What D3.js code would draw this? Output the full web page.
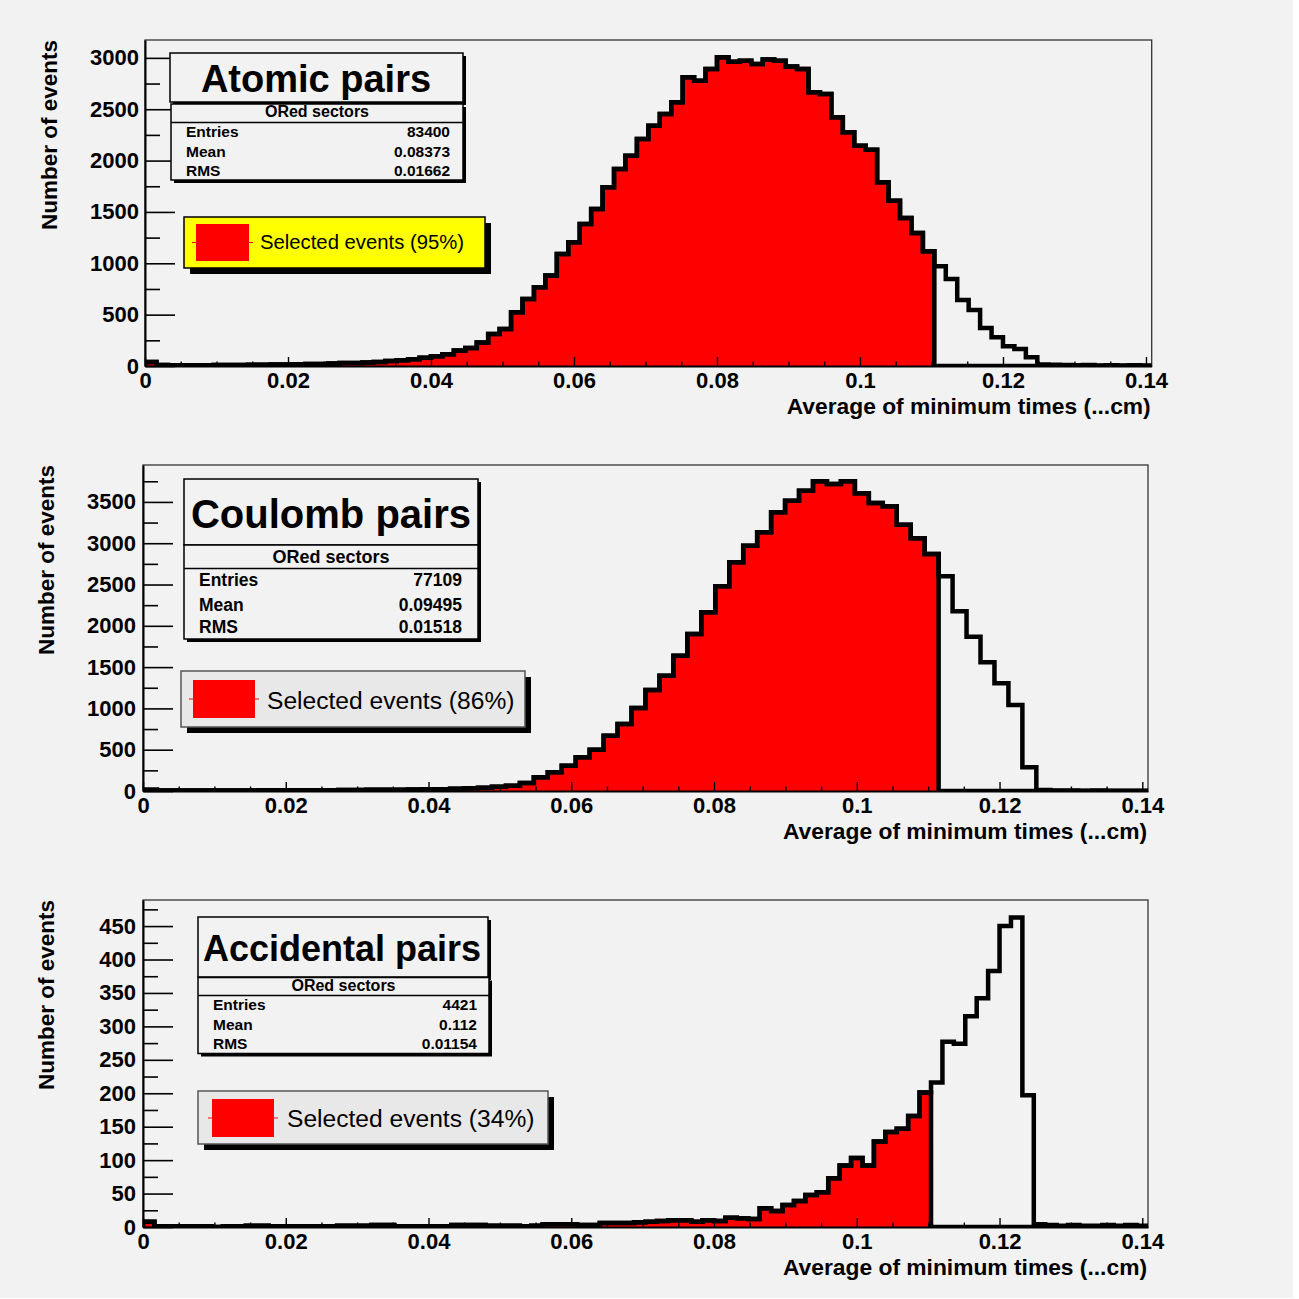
<!DOCTYPE html>
<html><head><meta charset="utf-8">
<script src="https://cdn.jsdelivr.net/npm/d3@7"></script>
<style>
body{margin:0;background:#fff}
svg{display:block}
text{font-family:"Liberation Sans",Arial,Helvetica,sans-serif}
</style>
</head><body>
<script>
// ---------------- DATA ----------------
const xRange = [0, 0.1408];
const xTickValues = [0, 0.02, 0.04, 0.06, 0.08, 0.1, 0.12, 0.14];
const xTickLabels = ["0", "0.02", "0.04", "0.06", "0.08", "0.1", "0.12", "0.14"];
const xMinorStep = 0.005;
const xTitle = "Average of minimum times (...cm)";
const yTitle = "Number of events";

const titles = ["Atomic pairs", "Coulomb pairs", "Accidental pairs"];
const statsHeader = "ORed sectors";
const statsLabels = ["Entries", "Mean", "RMS"];
const statsAtomic = ["83400", "0.08373", "0.01662"];
const statsCoulomb = ["77109", "0.09495", "0.01518"];
const statsAccidental = ["4421", "0.112", "0.01154"];
const legendLabels = ["Selected events (95%)", "Selected events (86%)", "Selected events (34%)"];

// upper edge (x) of the selected region
const cutAtomic = 0.1104;
const cutCoulomb = 0.1408 * 57 / 72;
const cutAccidental = 0.1104;

const yMaxAtomic = 3174;
const yMaxCoulomb = 3947;
const yMaxAccidental = 489;
const yTicksAtomic = [0, 500, 1000, 1500, 2000, 2500, 3000];
const yTicksCoulomb = [0, 500, 1000, 1500, 2000, 2500, 3000, 3500];
const yTicksAccidental = [0, 50, 100, 150, 200, 250, 300, 350, 400, 450];
const yMinorAtomic = 250, yMinorCoulomb = 250, yMinorAccidental = 25;

// bin contents (88 bins of 0.0016)
const atomicCounts = [
  40,10,8,8,8,8,10,10,10,12,12,14,15,18,20,20,25,28,30,35,40,48,55,65,80,95,115,150,175,
  230,312,360,523,652,766,880,1090,1204,1383,1529,1740,1918,2048,2210,2340,2454,2568,2811,2778,
  2892,3005,2963,2973,2940,2983,2973,2915,2892,2665,2648,2421,2275,2145,2106,1788,1610,1441,1295,1117,
  971,847,643,545,370,279,192,165,84,
  15,12,10,8,10,6,8,5,8,5];
// 72 bins
const coulombCounts = [
  15,5,5,5,5,5,5,5,8,8,8,10,10,10,12,12,14,15,16,18,20,22,26,32,40,50,
  64,97,166,226,307,408,500,670,811,1005,1223,1396,1638,1901,2163,2478,2769,2970,3132,3374,
  3515,3636,3749,3717,3749,3604,3487,3447,3224,3059,2869,2599,2175,1868,1558,1304,1041,287,
  12,6,5,4,5,3,4,3];
// 88 bins of 0.0016
const accidentalCounts = [
  8,1,1,1,1,1,0,1,1,2,2,1,1,1,1,1,1,2,2,2,3,3,1,1,1,1,1,3,3,3,2,2,2,1,2,4,4,4,3,3,6,6,6,7,8,9,10,10,8,10,
  9,14,13,12,28,24,33,39,48,52,73,92,103,92,128,142,147,166,201,
  216,277,274,315,342,383,450,463,197,4,3,2,3,2,2,3,2,3,2];

// ---------------- LAYOUT ----------------
const layouts = [
  {l:145, r:1151.7, t:40, b:366, yTitleX:57, yLabPad:6,
   tbox:{x:170,y:53,w:293,h:49,fs:38,cx:316,by:92},
   sbox:{x:171,y:104,w:292,h:76,fs:15.5,hfs:16,hy:117,sep:122.5,rows:[137,157,176],lx:186,rx:450},
   leg:{x:184,y:217,w:301,h:51,fill:"#ffff00",stroke:"#000",sh:6,fs:20.3,sq:[196,224,53,37],ln:[192,253],tx:260,ty:249}},
  {l:143, r:1148, t:465, b:791, yTitleX:54, yLabPad:7,
   tbox:{x:184,y:479,w:294,h:66,fs:40,cx:331,by:528},
   sbox:{x:184,y:545,w:294,h:94,fs:17.5,hfs:18,hy:563,sep:568.5,rows:[586,611,633],lx:199,rx:462},
   leg:{x:181,y:671,w:344,h:56,fill:"#e8e8e8",stroke:"#555",sh:6,fs:24.6,sq:[193,680,62,38],ln:[189,259],tx:267,ty:709}},
  {l:143, r:1148, t:900, b:1227, yTitleX:54, yLabPad:7,
   tbox:{x:198,y:917,w:290,h:60,fs:36,cx:342,by:961},
   sbox:{x:198,y:977.5,w:291,h:76,fs:15.5,hfs:16,hy:991,sep:995.5,rows:[1010,1030,1049],lx:213,rx:477},
   leg:{x:198,y:1091,w:350,h:53,fill:"#e8e8e8",stroke:"#555",sh:6,fs:24.6,sq:[212,1099,62,38],ln:[208,278],tx:287,ty:1127}}
];

const panels = [
  {counts:atomicCounts, cut:cutAtomic, yMax:yMaxAtomic, yTicks:yTicksAtomic, yMinor:yMinorAtomic, title:titles[0], stats:statsAtomic, legend:legendLabels[0]},
  {counts:coulombCounts, cut:cutCoulomb, yMax:yMaxCoulomb, yTicks:yTicksCoulomb, yMinor:yMinorCoulomb, title:titles[1], stats:statsCoulomb, legend:legendLabels[1]},
  {counts:accidentalCounts, cut:cutAccidental, yMax:yMaxAccidental, yTicks:yTicksAccidental, yMinor:yMinorAccidental, title:titles[2], stats:statsAccidental, legend:legendLabels[2]}
];

// ---------------- DRAW ----------------
const W = 1299, H = 1299;
const svg = d3.select("body").append("svg").attr("width", W).attr("height", H);
svg.append("rect").attr("width", W).attr("height", H).attr("fill", "#ffffff");
svg.append("rect").attr("x", 0).attr("y", 0).attr("width", 1293).attr("height", 1298).attr("fill", "#f2f2f2");

const FONT = '"Liberation Sans",Arial,Helvetica,sans-serif';

panels.forEach((p, pi) => {
  const L = layouts[pi];
  const x = d3.scaleLinear().domain(xRange).range([L.l, L.r]);
  const y = d3.scaleLinear().domain([0, p.yMax]).range([L.b, L.t]);
  const n = p.counts.length;
  const bw = (xRange[1] - xRange[0]) / n;
  const bins = p.counts.map((v, i) => ({lo: xRange[0] + i * bw, hi: xRange[0] + (i + 1) * bw, v}));
  const sel = bins.map(b => ({lo: b.lo, hi: b.hi, v: (b.hi <= p.cut + 1e-9) ? b.v : 0}));

  // frame
  svg.append("rect").attr("x", L.l).attr("y", L.t).attr("width", L.r - L.l).attr("height", L.b - L.t)
    .attr("fill", "#f2f2f2").attr("stroke", "#333").attr("stroke-width", 1.3);

  const clipId = "clip" + pi;
  svg.append("clipPath").attr("id", clipId).append("rect")
    .attr("x", L.l).attr("y", L.t).attr("width", L.r - L.l).attr("height", L.b - L.t);
  const g = svg.append("g").attr("clip-path", `url(#${clipId})`);

  const stepPts = arr => {
    const pts = [[arr[0].lo, 0]];
    arr.forEach(b => { pts.push([b.lo, b.v]); pts.push([b.hi, b.v]); });
    return pts;
  };
  const line = d3.line().x(d => x(d[0])).y(d => y(d[1]));
  const area = d3.area().x(d => x(d[0])).y0(y(0)).y1(d => y(d[1]));
  const selPts = stepPts(sel);
  g.append("path").attr("d", area(selPts)).attr("fill", "#ff0000").attr("stroke", "none");
  g.append("path").attr("d", line(stepPts(bins))).attr("fill", "none")
    .attr("stroke", "#000").attr("stroke-width", 4.5).attr("stroke-linejoin", "miter");
  g.append("path").attr("d", line(selPts)).attr("fill", "none")
    .attr("stroke", "#000").attr("stroke-width", 4.5).attr("stroke-linejoin", "miter");

  // y axis
  const yMinorTicks = d3.range(0, p.yMax, p.yMinor).filter(v => !p.yTicks.includes(v));
  const gyMinor = svg.append("g").attr("transform", `translate(${L.l},0)`)
    .call(d3.axisLeft(y).tickValues(yMinorTicks).tickSize(-15).tickSizeOuter(0).tickFormat(""));
  gyMinor.select(".domain").remove();
  gyMinor.selectAll("line").attr("stroke", "#000").attr("stroke-width", 1.6);
  const gy = svg.append("g").attr("transform", `translate(${L.l},0)`)
    .call(d3.axisLeft(y).tickValues(p.yTicks).tickSize(-30).tickSizeOuter(0).tickPadding(L.yLabPad).tickFormat(d3.format("d")));
  gy.select(".domain").attr("stroke", "#000").attr("stroke-width", 2);
  gy.selectAll("line").attr("stroke", "#000").attr("stroke-width", 1.6);
  gy.selectAll("text").attr("font-family", FONT).attr("font-weight", "bold").attr("font-size", 22).attr("fill", "#000");

  // x axis
  const xMinorTicks = d3.range(0, 0.14 + 1e-9, xMinorStep).filter(v => !xTickValues.some(t => Math.abs(t - v) < 1e-9));
  const gxMinor = svg.append("g").attr("transform", `translate(0,${L.b})`)
    .call(d3.axisBottom(x).tickValues(xMinorTicks).tickSize(-4.5).tickSizeOuter(0).tickFormat(""));
  gxMinor.select(".domain").remove();
  gxMinor.selectAll("line").attr("stroke", "#000").attr("stroke-width", 1.4);
  const gx = svg.append("g").attr("transform", `translate(0,${L.b})`)
    .call(d3.axisBottom(x).tickValues(xTickValues).tickSize(-9).tickSizeOuter(0).tickPadding(6.5)
      .tickFormat((d, i) => xTickLabels[i]));
  gx.select(".domain").attr("stroke", "#000").attr("stroke-width", 2);
  gx.selectAll("line").attr("stroke", "#000").attr("stroke-width", 1.4);
  gx.selectAll("text").attr("font-family", FONT).attr("font-weight", "bold").attr("font-size", 22).attr("fill", "#000");

  // axis titles
  svg.append("text").attr("x", L.r - 1).attr("y", L.b + 48).attr("text-anchor", "end")
    .attr("font-weight", "bold").attr("font-size", 22.8).text(xTitle);
  svg.append("text").attr("transform", `translate(${L.yTitleX},${L.t}) rotate(-90)`)
    .attr("text-anchor", "end").attr("font-weight", "bold").attr("font-size", 22.5).text(yTitle);

  // title box
  const tb = L.tbox;
  svg.append("rect").attr("x", tb.x + 3).attr("y", tb.y + 3).attr("width", tb.w).attr("height", tb.h).attr("fill", "#000");
  svg.append("rect").attr("x", tb.x).attr("y", tb.y).attr("width", tb.w).attr("height", tb.h)
    .attr("fill", "#f2f2f2").attr("stroke", "#000").attr("stroke-width", 1.5);
  svg.append("text").attr("x", tb.cx).attr("y", tb.by).attr("text-anchor", "middle")
    .attr("font-weight", "bold").attr("font-size", tb.fs).text(p.title);

  // stats box
  const sb = L.sbox;
  svg.append("rect").attr("x", sb.x + 3).attr("y", sb.y + 3).attr("width", sb.w).attr("height", sb.h).attr("fill", "#000");
  svg.append("rect").attr("x", sb.x).attr("y", sb.y).attr("width", sb.w).attr("height", sb.h)
    .attr("fill", "#f2f2f2").attr("stroke", "#000").attr("stroke-width", 1.5);
  svg.append("line").attr("x1", sb.x).attr("x2", sb.x + sb.w).attr("y1", sb.sep).attr("y2", sb.sep)
    .attr("stroke", "#000").attr("stroke-width", 1.5);
  svg.append("text").attr("x", sb.x + sb.w / 2).attr("y", sb.hy).attr("text-anchor", "middle")
    .attr("font-weight", "bold").attr("font-size", sb.hfs).text(statsHeader);
  statsLabels.forEach((lab, i) => {
    svg.append("text").attr("x", sb.lx).attr("y", sb.rows[i]).attr("font-weight", "bold")
      .attr("font-size", sb.fs).text(lab);
    svg.append("text").attr("x", sb.rx).attr("y", sb.rows[i]).attr("text-anchor", "end").attr("font-weight", "bold")
      .attr("font-size", sb.fs).text(p.stats[i]);
  });

  // legend
  const lg = L.leg;
  svg.append("rect").attr("x", lg.x + lg.sh).attr("y", lg.y + lg.sh).attr("width", lg.w).attr("height", lg.h).attr("fill", "#000");
  svg.append("rect").attr("x", lg.x).attr("y", lg.y).attr("width", lg.w).attr("height", lg.h)
    .attr("fill", lg.fill).attr("stroke", lg.stroke).attr("stroke-width", 1.5);
  svg.append("rect").attr("x", lg.sq[0]).attr("y", lg.sq[1]).attr("width", lg.sq[2]).attr("height", lg.sq[3]).attr("fill", "#ff0000");
  svg.append("line").attr("x1", lg.ln[0]).attr("x2", lg.ln[1]).attr("y1", lg.sq[1] + lg.sq[3] / 2).attr("y2", lg.sq[1] + lg.sq[3] / 2)
    .attr("stroke", "#ff0000").attr("stroke-width", 1.2);
  svg.append("text").attr("x", lg.tx).attr("y", lg.ty).attr("font-size", lg.fs).text(p.legend);
});
</script>
</body></html>
